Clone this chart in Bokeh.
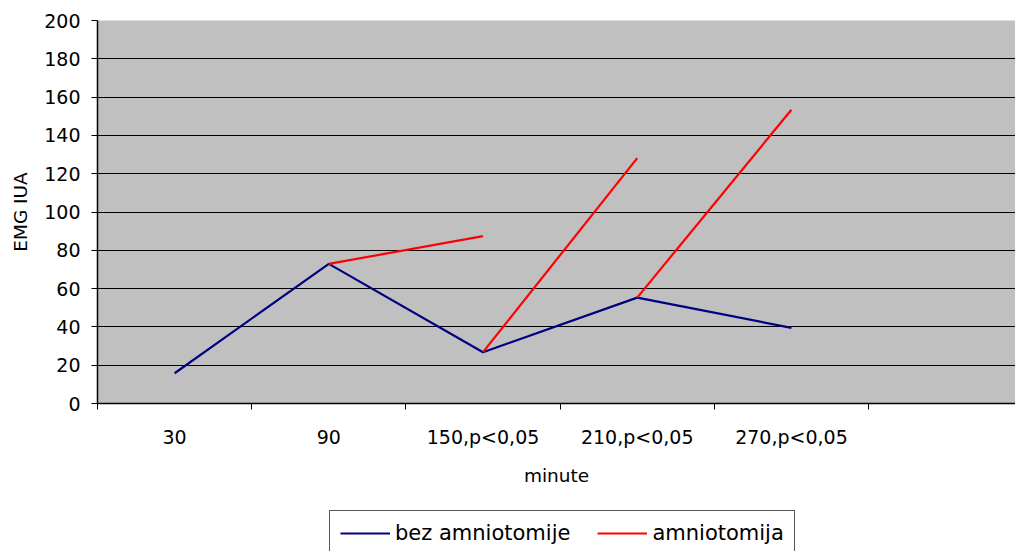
from bokeh.plotting import figure
from bokeh.layouts import column
from bokeh.models import (ColumnDataSource, FixedTicker, Range1d, Legend, LegendItem)
from bokeh.embed import file_html
from bokeh.resources import INLINE

# ---- data ----
categories = ["30", "90", "150,p<0,05", "210,p<0,05", "270,p<0,05"]
n_slots = 6  # category slots on the axis (last one is empty)
bez_amniotomije = [15.8, 72.9, 26.8, 55.3, 39.5]
amniotomija = [None, None, 87.4, 128.1, 153.4]  # each drawn from previous blue point
y_ticks = [0, 20, 40, 60, 80, 100, 120, 140, 160, 180, 200]
series_names = ["bez amniotomije", "amniotomija"]
series_colors = ["#000080", "#FF0000"]

FONT = "DejaVu Sans"

xc = [i + 0.5 for i in range(len(categories))]

p = figure(width=1015, height=505, output_backend="svg", toolbar_location=None,
           x_range=Range1d(0, 5.953), y_range=Range1d(0, 200),
           min_border_left=97, min_border_top=20, min_border_right=0,
           min_border_bottom=102)
p.border_fill_color = "white"
p.outline_line_color = None
p.background_fill_color = "#C0C0C0"

blue_src = ColumnDataSource(dict(x=xc, y=bez_amniotomije))
rb = p.line("x", "y", source=blue_src, line_color=series_colors[0], line_width=2.2)

x0, y0, x1, y1 = [], [], [], []
for i, v in enumerate(amniotomija):
    if v is not None and i > 0:
        x0.append(xc[i - 1]); y0.append(bez_amniotomije[i - 1])
        x1.append(xc[i]); y1.append(v)
red_src = ColumnDataSource(dict(x0=x0, y0=y0, x1=x1, y1=y1))
rr = p.segment("x0", "y0", "x1", "y1", source=red_src, line_color=series_colors[1], line_width=2.2)

# y axis
p.yaxis.ticker = FixedTicker(ticks=y_ticks, minor_ticks=[])
p.yaxis.axis_label = "EMG IUA"
p.yaxis.axis_label_text_font = FONT
p.yaxis.axis_label_text_font_size = "18.5px"
p.yaxis.axis_label_text_font_style = "normal"
p.yaxis.axis_label_text_color = "black"
p.yaxis.axis_label_standoff = 10
p.yaxis.major_label_text_font = FONT
p.yaxis.major_label_text_font_size = "19px"
p.yaxis.major_label_text_color = "black"
p.yaxis.major_tick_out = 6
p.yaxis.major_tick_in = 0
p.yaxis.major_tick_line_color = "black"
p.yaxis.major_label_standoff = 11
p.yaxis.axis_line_color = "black"
p.yaxis.axis_line_width = 1.5

# x axis: labels at category centres, ticks at category boundaries
p.xaxis.ticker = FixedTicker(ticks=xc, minor_ticks=list(range(n_slots + 1)))
p.xaxis.major_label_overrides = {x: c for x, c in zip(xc, categories)}
p.xaxis.major_tick_line_color = None
p.xaxis.major_tick_out = 0
p.xaxis.major_tick_in = 0
p.xaxis.minor_tick_out = 6
p.xaxis.minor_tick_in = 0
p.xaxis.minor_tick_line_color = "black"
p.xaxis.major_label_standoff = 16
p.xaxis.major_label_text_font = FONT
p.xaxis.major_label_text_font_size = "19px"
p.xaxis.major_label_text_color = "black"
p.xaxis.axis_label = "minute"
p.xaxis.axis_label_text_font = FONT
p.xaxis.axis_label_text_font_size = "18.5px"
p.xaxis.axis_label_text_font_style = "normal"
p.xaxis.axis_label_text_color = "black"
p.xaxis.axis_label_standoff = 14
p.xaxis.axis_line_color = "black"
p.xaxis.axis_line_width = 1.5

p.xgrid.grid_line_color = None
p.ygrid.grid_line_color = "black"
p.ygrid.grid_line_width = 1

# legend strip below the chart
lg = figure(width=1015, height=46, output_backend="svg", toolbar_location=None,
            x_range=Range1d(0, 1), y_range=Range1d(0, 1),
            x_axis_location=None, y_axis_location=None,
            min_border_left=0, min_border_right=0, min_border_top=0, min_border_bottom=0)
lg.grid.visible = False
lg.outline_line_color = None
lg.border_fill_color = "white"
lg.background_fill_color = "white"
items = []
for name, col in zip(series_names, series_colors):
    # proxy renderer placed outside the visible range: only its legend glyph shows
    r = lg.line(x=[5, 6], y=[5, 6], line_color=col, line_width=2.2)
    items.append(LegendItem(label=name, renderers=[r]))
legend = Legend(items=items, location=(232, -5), orientation="horizontal",
                label_text_font=FONT, label_text_font_size="21px",
                label_text_color="black", label_height=22, glyph_height=22,
                glyph_width=50, label_standoff=5, spacing=27, padding=10,
                margin=0,
                border_line_color="#555555", border_line_width=1, border_line_alpha=1,
                background_fill_color="white", background_fill_alpha=1)
lg.add_layout(legend, "center")

layout = column(p, lg, spacing=0)
open("out.html", "w").write(file_html(layout, INLINE))
